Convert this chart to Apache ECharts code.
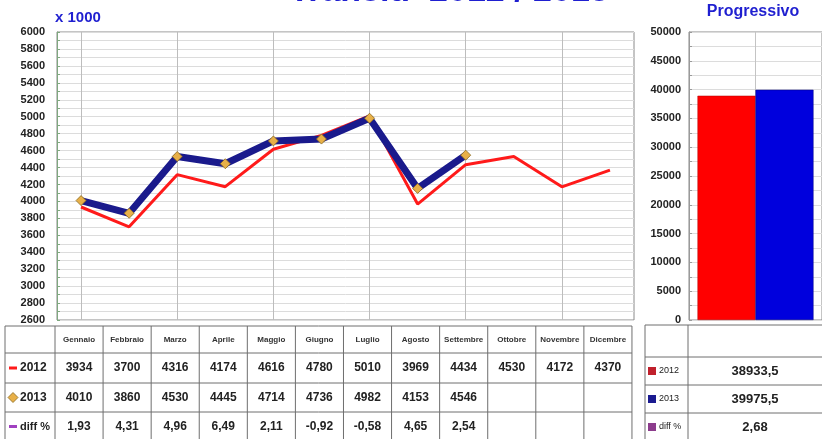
<!DOCTYPE html>
<html>
<head>
<meta charset="utf-8">
<script src="https://cdn.jsdelivr.net/npm/echarts@6/dist/echarts.min.js"></script>
<style>
  html, body { margin: 0; padding: 0; background: #fff; }
  #chart { width: 822px; height: 439px; }
</style>
</head>
<body>
<div id="chart"></div>
<script>
  var months = ['Gennaio', 'Febbraio', 'Marzo', 'Aprile', 'Maggio', 'Giugno', 'Luglio', 'Agosto', 'Settembre', 'Ottobre', 'Novembre', 'Dicembre'];
  var v2012 = [3934, 3700, 4316, 4174, 4616, 4780, 5010, 3969, 4434, 4530, 4172, 4370];
  var v2013 = [4010, 3860, 4530, 4445, 4714, 4736, 4982, 4153, 4546];
  var diffPct = [1.93, 4.31, 4.96, 6.49, 2.11, -0.92, -0.58, 4.65, 2.54];
  var progCats = ['Progressivo'];
  var prog2012 = [38933.5];
  var prog2013 = [39975.5];
  var progDiff = 2.68;

  var FONT = 'Liberation Sans';
  var RED = '#ff1a1a', NAVY = '#1a1a8c', GOLD = '#e8b048', PURPLE = '#8c3c8c', TITLE = '#1f1fd0';

  function fmt(n) { return n.toFixed(2).replace('.', ','); }
  function fmt1(n) { return n.toFixed(1).replace('.', ','); }

  var g = [];
  function line(x1, y1, x2, y2, c) {
    g.push({ type: 'line', shape: { x1: x1, y1: y1, x2: x2, y2: y2 }, style: { stroke: c || '#6e6e6e', lineWidth: 1 }, silent: true });
  }
  function text(x, y, s, size, weight, color, align) {
    g.push({ type: 'text', x: x, y: y, style: { text: s, font: (weight || 'bold') + ' ' + size + 'px "' + FONT + '"', fill: color || '#222', align: align || 'center', verticalAlign: 'middle' }, silent: true });
  }

  // left table
  var tl = 5, c0 = 55, cw = 48.08, rows = [326, 353, 383, 412, 441];
  rows.forEach(function (y) { line(tl, y, c0 + cw * 12, y); });
  line(tl, rows[0], tl, rows[4]);
  for (var i = 0; i <= 12; i++) line(c0 + cw * i, rows[0], c0 + cw * i, rows[4]);
  var rc = [];
  for (var r = 0; r < 4; r++) rc.push((rows[r] + rows[r + 1]) / 2);
  months.forEach(function (m, i) {
    var cx = c0 + cw * (i + 0.5);
    text(cx, rc[0], m, 8, 'bold', '#333');
    text(cx, rc[1], String(v2012[i]), 12);
    if (i < v2013.length) text(cx, rc[2], String(v2013[i]), 12);
    if (i < diffPct.length) text(cx, rc[3], fmt(diffPct[i]), 12);
  });
  g.push({ type: 'rect', shape: { x: 9, y: rc[1] - 1.5, width: 8, height: 3 }, style: { fill: RED }, silent: true });
  g.push({ type: 'polygon', shape: { points: [[13, rc[2] - 5], [18, rc[2]], [13, rc[2] + 5], [8, rc[2]]] }, style: { fill: GOLD, stroke: '#8a6a20', lineWidth: 0.8 }, silent: true });
  g.push({ type: 'rect', shape: { x: 9, y: rc[3] - 1.5, width: 8, height: 3 }, style: { fill: '#a040c0' }, silent: true });
  text(20, rc[1], '2012', 12, 'bold', '#222', 'left');
  text(20, rc[2], '2013', 12, 'bold', '#222', 'left');
  text(20, rc[3], 'diff %', 11, 'bold', '#222', 'left');

  // right table
  var rl = 645, rm = 688, rr = 822, rrows = [325, 357, 385, 413, 441];
  rrows.forEach(function (y) { line(rl, y, rr, y); });
  line(rl, rrows[0], rl, rrows[4]);
  line(rm, rrows[0], rm, rrows[4]);
  var rrc = [];
  for (var k = 0; k < 4; k++) rrc.push((rrows[k] + rrows[k + 1]) / 2);
  [['2012', '#c0202c'], ['2013', '#1a1a90'], ['diff %', PURPLE]].forEach(function (e, k) {
    g.push({ type: 'rect', shape: { x: 648, y: rrc[k + 1] - 4, width: 8, height: 8 }, style: { fill: e[1] }, silent: true });
    text(659, rrc[k + 1], e[0], 9, 'normal', '#222', 'left');
  });
  text(755, rrc[1], fmt1(prog2012[0]), 13);
  text(755, rrc[2], fmt1(prog2013[0]), 13);
  text(755, rrc[3], fmt(progDiff), 13);

  // titles
  text(449, -8, 'Transiti  2012 / 2013', 34, 'bold', TITLE);
  text(55, 18, 'x 1000', 15, 'bold', TITLE, 'left');
  text(753, 12, 'Progressivo', 16, 'bold', TITLE);

  var chart = echarts.init(document.getElementById('chart'));
  var option = {
    animation: false,
    backgroundColor: '#fff',
    grid: [
      { left: 57, top: 32, width: 577, height: 288, show: true, borderColor: '#8a8a8a', borderWidth: 1 },
      { left: 689, top: 32, width: 140, height: 288, show: true, borderColor: '#8a8a8a', borderWidth: 1 }
    ],
    xAxis: [
      {
        type: 'category', gridIndex: 0, data: months,
        axisLine: { show: false }, axisTick: { show: false }, axisLabel: { show: false },
        splitLine: { show: true, alignWithLabel: true, lineStyle: { color: '#bdbdbd' } }
      },
      {
        type: 'category', gridIndex: 1, data: progCats,
        axisLine: { show: false }, axisTick: { show: false }, axisLabel: { show: false },
        splitLine: { show: true, alignWithLabel: true, lineStyle: { color: '#c4c4c4' } }
      }
    ],
    yAxis: [
      {
        type: 'value', gridIndex: 0, min: 2600, max: 6000, interval: 100,
        axisLine: { show: true, lineStyle: { color: '#7fa87f' } },
        axisTick: { show: true, inside: true, length: 3, lineStyle: { color: '#7fa87f' } },
        axisLabel: {
          margin: 12, color: '#222', fontFamily: FONT, fontWeight: 'bold', fontSize: 11,
          formatter: function (v) { return v % 200 === 0 ? String(v) : ''; }
        },
        splitLine: { lineStyle: { color: '#dcdcdc' } }
      },
      {
        type: 'value', gridIndex: 1, min: 0, max: 50000, interval: 2500,
        axisLine: { show: true, lineStyle: { color: '#9a9a9a' } },
        axisTick: { show: true, inside: true, length: 3, lineStyle: { color: '#9a9a9a' } },
        axisLabel: {
          margin: 8, color: '#222', fontFamily: FONT, fontWeight: 'bold', fontSize: 11,
          formatter: function (v) { return v % 5000 === 0 ? String(v) : ''; }
        },
        splitLine: { lineStyle: { color: '#dcdcdc' } }
      }
    ],
    series: [
      {
        name: '2012', type: 'line', xAxisIndex: 0, yAxisIndex: 0, data: v2012,
        symbol: 'none', lineStyle: { color: RED, width: 3 }, z: 3
      },
      {
        name: '2013', type: 'line', xAxisIndex: 0, yAxisIndex: 0, data: v2013,
        symbol: 'diamond', symbolSize: 10,
        itemStyle: { color: GOLD, borderColor: '#8a6a20', borderWidth: 0.8 },
        lineStyle: { color: NAVY, width: 7 }, z: 4
      },
      {
        name: 'Prog 2012', type: 'bar', xAxisIndex: 1, yAxisIndex: 1, data: prog2012,
        barWidth: 58, barGap: '0%', itemStyle: { color: '#ff0000', borderColor: '#b00000', borderWidth: 0.5 }
      },
      {
        name: 'Prog 2013', type: 'bar', xAxisIndex: 1, yAxisIndex: 1, data: prog2013,
        barWidth: 58, barGap: '0%', itemStyle: { color: '#0000dd', borderColor: '#000080', borderWidth: 0.5 }
      }
    ],
    graphic: g
  };
  chart.setOption(option);
</script>
</body>
</html>
